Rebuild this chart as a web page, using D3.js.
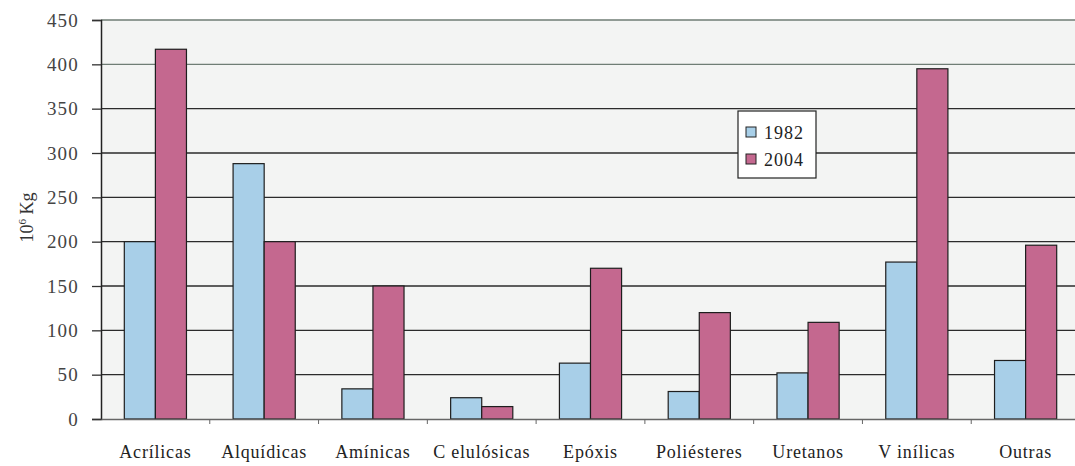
<!DOCTYPE html>
<html>
<head>
<meta charset="utf-8">
<script src="https://cdn.jsdelivr.net/npm/d3@7"></script>
<style>
  html, body { margin: 0; padding: 0; background: #ffffff; }
  svg { display: block; }
</style>
</head>
<body>
<svg id="chart" width="1075" height="466" font-family="'Liberation Serif', 'Times New Roman', serif"></svg>
<script>
// Resin production by type, 10^6 kg
const categories = ["Acrílicas", "Alquídicas", "Amínicas", "C elulósicas", "Epóxis", "Poliésteres", "Uretanos", "V inílicas", "Outras"];
const seriesNames = ["1982", "2004"];
const values1982 = [200, 288, 34, 24, 63, 31, 52, 177, 66];
const values2004 = [417, 200, 150, 14, 170, 120, 109, 395, 196];
const yTicks = [0, 50, 100, 150, 200, 250, 300, 350, 400, 450];
const colors = ["#a8cfe8", "#c4688f"];

const SERIF = "Liberation Serif";
const svg = d3.select("#chart");
const margin = { left: 101, right: -5, top: 20, bottom: 47 };
const W = 1075, H = 466;

const x = d3.scaleBand()
  .domain(categories)
  .range([margin.left, W - margin.right])
  .paddingInner(0)
  .paddingOuter(0);

const xs = d3.scaleBand()
  .domain(seriesNames)
  .range([0, x.bandwidth()])
  .paddingInner(0)
  .paddingOuter(0.75);

const y = d3.scaleLinear()
  .domain([0, 450])
  .range([H - margin.bottom, margin.top]);

// plot area
svg.append("rect")
  .attr("x", margin.left)
  .attr("y", margin.top)
  .attr("width", W - margin.right - margin.left)
  .attr("height", y(0) - margin.top)
  .attr("fill", "#f3f4f3");

// horizontal grid
svg.append("g")
  .selectAll("line")
  .data(yTicks.filter(d => d > 0))
  .join("line")
  .attr("x1", margin.left)
  .attr("x2", W)
  .attr("y1", d => y(d))
  .attr("y2", d => y(d))
  .attr("stroke", d => d >= 400 ? "#6f7d75" : "#2b2b2b")
  .attr("stroke-width", 1.4);

// bars
const data = categories.map((c, i) => ({ cat: c, vals: [values1982[i], values2004[i]] }));
const groups = svg.append("g")
  .selectAll("g")
  .data(data)
  .join("g")
  .attr("transform", d => `translate(${x(d.cat)},0)`);

groups.selectAll("rect")
  .data(d => d.vals.map((v, j) => ({ key: seriesNames[j], v, j })))
  .join("rect")
  .attr("x", d => xs(d.key))
  .attr("y", d => y(d.v))
  .attr("width", xs.bandwidth())
  .attr("height", d => y(0) - y(d.v))
  .attr("fill", d => colors[d.j])
  .attr("stroke", "#1e1e1e")
  .attr("stroke-width", 1.2);

// y axis
const yAxis = d3.axisLeft(y)
  .tickValues(yTicks)
  .tickSize(9)
  .tickPadding(13)
  .tickFormat(d3.format("d"));
const gy = svg.append("g")
  .attr("transform", `translate(${margin.left},0)`)
  .call(yAxis)
  .attr("font-family", SERIF);
gy.select(".domain").attr("stroke", "#222").attr("stroke-width", 1.5);
gy.selectAll(".tick line").attr("stroke", "#333").attr("stroke-width", 1.3);
gy.selectAll(".tick text")
  .attr("fill", "#444")
  .attr("font-family", SERIF)
  .attr("font-size", 19)
  .attr("letter-spacing", 1.2);

// x axis
const xAxis = d3.axisBottom(x)
  .tickSize(0)
  .tickPadding(26);
const gx = svg.append("g")
  .attr("transform", `translate(0,${y(0)})`)
  .call(xAxis)
  .attr("font-family", SERIF);
gx.select(".domain").attr("stroke", "#666").attr("stroke-width", 1.5);
gx.selectAll(".tick text")
  .attr("fill", "#222")
  .attr("font-family", SERIF)
  .attr("font-size", 18)
  .attr("letter-spacing", 0.8);

// category separators on x axis
svg.append("g")
  .selectAll("line")
  .data(categories.slice(1))
  .join("line")
  .attr("x1", d => x(d))
  .attr("x2", d => x(d))
  .attr("y1", y(0))
  .attr("y2", y(0) + 5)
  .attr("stroke", "#666")
  .attr("stroke-width", 1);

// y axis title
svg.append("text")
  .attr("transform", `translate(33,${(y(0) + y(450)) / 2 - 2}) rotate(-90)`)
  .attr("text-anchor", "middle")
  .attr("fill", "#333")
  .attr("font-family", SERIF)
  .attr("font-size", 18)
  .html('10<tspan dy="-7" font-size="11">6</tspan><tspan dy="7"> Kg</tspan>');

// legend
const lg = svg.append("g").attr("transform", "translate(738,111)");
lg.append("rect")
  .attr("width", 78)
  .attr("height", 67)
  .attr("fill", "#ffffff")
  .attr("stroke", "#222")
  .attr("stroke-width", 1.2);
const items = lg.selectAll("g.item")
  .data(seriesNames)
  .join("g")
  .attr("class", "item")
  .attr("transform", (d, i) => `translate(8,${22 + i * 27})`);
items.append("rect")
  .attr("x", 0)
  .attr("y", -6)
  .attr("width", 10)
  .attr("height", 10)
  .attr("fill", (d, i) => colors[i])
  .attr("stroke", "#222")
  .attr("stroke-width", 1);
items.append("text")
  .attr("x", 18)
  .attr("y", 6)
  .attr("fill", "#222")
  .attr("font-family", SERIF)
  .attr("font-size", 18)
  .attr("letter-spacing", 1)
  .text(d => d);
</script>
</body>
</html>
